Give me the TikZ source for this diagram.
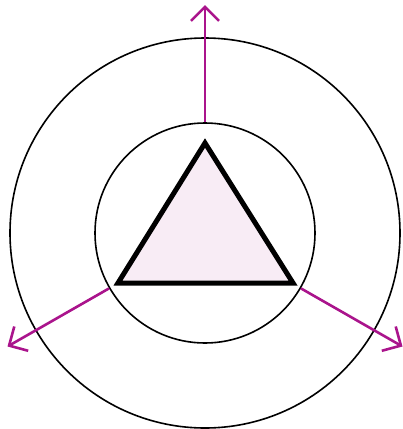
\documentclass[tikz,border=0pt]{standalone}
\usetikzlibrary{arrows.meta,calc}
\definecolor{arrowmag}{RGB}{170,20,140}
\definecolor{trifill}{RGB}{248,236,245}
\tikzset{
  ring/.style={draw=black, line width=1.6pt},
  tri/.style={draw=black, line width=5pt, line join=miter, fill=trifill},
  radial/.style={draw=arrowmag, line width=2.6pt, -{Straight Barb[length=14pt,width=28pt,line width=2.6pt]}}
}
\begin{document}
\begin{tikzpicture}[x=1pt,y=-1pt]
\useasboundingbox (0,0) rectangle (403,429);
\coordinate (c) at (205,233);
\node[ring, circle, minimum size=390pt, inner sep=0pt] (outer) at (c) {};
\node[ring, circle, minimum size=220pt, inner sep=0pt] (inner) at (c) {};
\draw[tri] (205,143) coordinate (apex) -- (293,283) coordinate (br) -- (118,283) coordinate (bl) -- cycle;
\coordinate (tipU) at ($(c)+(0,-228)$);
\coordinate (tipL) at ($(c)+(-197.5,113.5)$);
\coordinate (tipR) at ($(c)+(197.5,113.5)$);
\draw[radial] (inner.north) -- (tipU);
\draw[radial] (inner.210) -- (tipL);
\draw[radial] (inner.-30) -- (tipR);
\end{tikzpicture}
\end{document}
